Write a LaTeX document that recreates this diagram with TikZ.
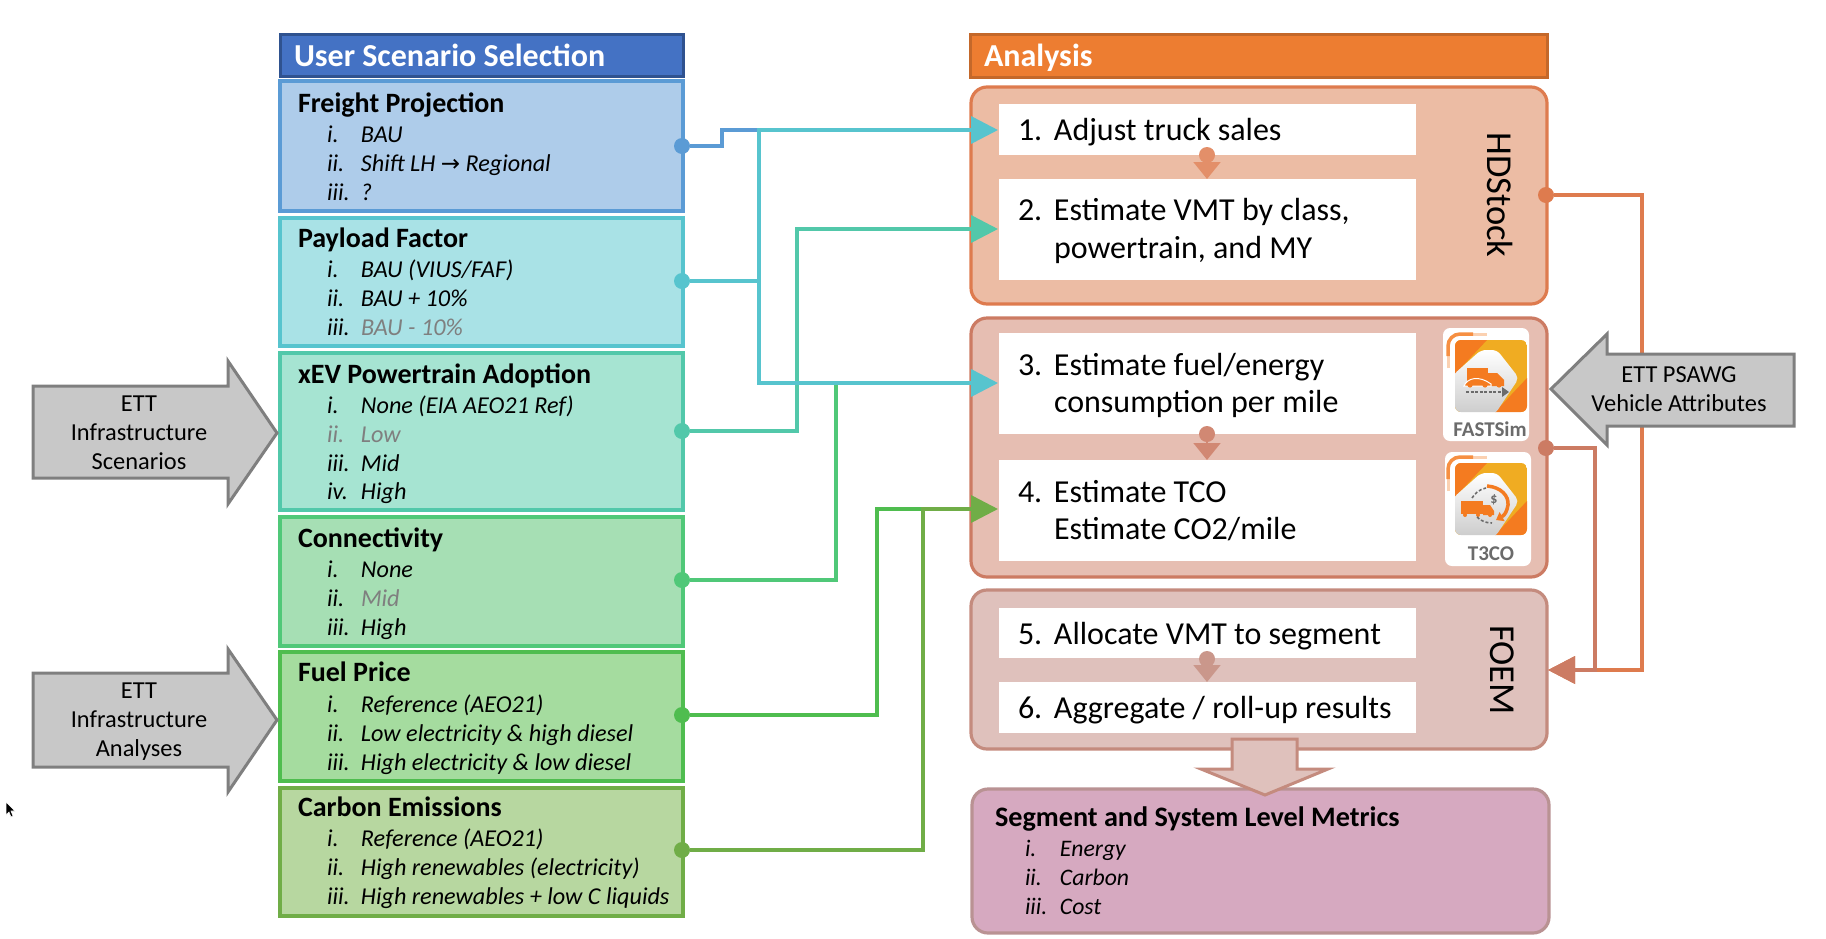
\documentclass[tikz,border=0pt]{standalone}
\usepackage{fontspec}
\setmainfont{Carlito}
\newfontfamily\arrowfont{DejaVu Sans}
\usetikzlibrary{arrows.meta}
\definecolor{cFrF}{HTML}{AECCEA}\definecolor{cFrB}{HTML}{5B9BD5}
\definecolor{cPaF}{HTML}{A9E2E6}\definecolor{cPaB}{HTML}{57C4CE}
\definecolor{cXeF}{HTML}{A6E4D2}\definecolor{cXeB}{HTML}{52C8AA}
\definecolor{cCoF}{HTML}{A6DFB4}\definecolor{cCoB}{HTML}{50C878}
\definecolor{cFuF}{HTML}{A5DC9F}\definecolor{cFuB}{HTML}{4FBD4F}
\definecolor{cCaF}{HTML}{B7D7A0}\definecolor{cCaB}{HTML}{70AD47}
\definecolor{cHdF}{HTML}{ECBCA4}\definecolor{cHdB}{HTML}{DE7B4E}
\definecolor{cBoF}{HTML}{E6BEB2}\definecolor{cBoB}{HTML}{CC7B63}
\definecolor{cFoF}{HTML}{DFC1BC}\definecolor{cFoB}{HTML}{C48B7E}
\definecolor{cMeF}{HTML}{D6A9C0}\definecolor{cMeB}{HTML}{B99293}
\definecolor{cGrF}{HTML}{C8C8C8}\definecolor{cGrB}{HTML}{7F7F7F}
\definecolor{cTxG}{HTML}{7F7F7F}\definecolor{cIcO}{HTML}{F47B20}\definecolor{cIcY}{HTML}{F0AC22}
\definecolor{cIcG}{HTML}{6B6B6B}
\definecolor{cTlF}{HTML}{4472C4}\definecolor{cTlB}{HTML}{2F528F}
\definecolor{cAnF}{HTML}{ED7D31}\definecolor{cAnB}{HTML}{C4682A}
\newcommand{\hdfont}{\fontsize{28}{30}\selectfont\bfseries}
\newcommand{\tlfont}{\fontsize{32}{34}\selectfont\bfseries}
\newcommand{\itfont}{\fontsize{24.2}{28}\selectfont\itshape}
\newcommand{\stfont}{\fontsize{32}{37}\selectfont}
\newcommand{\grfont}{\fontsize{24.4}{29}\selectfont}
\newcommand{\rowitem}[5][black]{\node[txt,text=#1] (#2) at (327,#3) {\hbox to 34pt{#4\hfil}#5};}
\newcommand{\rowitemB}[4]{\node[txt,font=\fontsize{23.7}{28}\selectfont\itshape] (#1) at (1025,#2) {\hbox to 35pt{#3\hfil}#4};}
\newcommand{\stepitem}[4]{\node[stxt] (#1) at (1018,#2) {\hbox to 36pt{#3\hfil}#4};}
\newcommand{\iconbase}{%
  \draw[cIcO!35!white,line width=3pt] (-7,28) -- (-7,12);
  \draw[cIcO!35!white,line width=3pt] (14,-6) -- (32,-6);
  \draw[cIcO!85!white,line width=3.5pt,rounded corners=12pt] (-7,16) -- (-7,-6) -- (18,-6);
  \draw[white,line width=1pt,dashed,rounded corners=9pt] (-4,22) -- (-4,-3) -- (22,-3);
  \begin{scope}
    \clip[rounded corners=6pt] (0,0) rectangle (72,72);
    \fill[cIcY] (0,0) rectangle (72,72);
    \fill[cIcO] (0,0) -- (32,0) -- (0,34) -- cycle;
    \fill[cIcO] (72,38) -- (72,72) -- (40,72) -- cycle;
    \shade[top color=white,bottom color=black!20,rounded corners=5pt] (-2,35) -- (26,10) -- (42,10) -- (64,38) -- (40,74) -- (-2,74) -- cycle;
  \end{scope}
}
\tikzset{
  x=1pt,y=-1pt,
  box/.style={line width=3.2pt,line join=miter},
  rbox/.style={line width=3.2pt,rounded corners=16pt},
  txt/.style={anchor=base west,inner sep=0pt,outer sep=0pt,font=\itfont},
  hd/.style={anchor=base west,inner sep=0pt,outer sep=0pt,font=\hdfont},
  tl/.style={anchor=base west,inner sep=0pt,outer sep=0pt,font=\tlfont,text=white},
  stxt/.style={anchor=base west,inner sep=0pt,outer sep=0pt,font=\stfont},
  grtxt/.style={anchor=base,inner sep=0pt,outer sep=0pt,font=\grfont},
  dot/.style={circle,inner sep=0pt,minimum size=16pt,fill=#1},
  conn/.style={draw=#1,line width=3.6pt,line join=miter},
  bigtip/.style={-{Triangle[length=27pt,width=27pt]}},
  smalltip/.style={-{Triangle[length=17pt,width=27pt]}},
  whitebox/.style={fill=white,draw=none},
  grayarrow/.style={fill=cGrF,draw=cGrB,line width=3pt,line join=miter},
  rotlabel/.style={inner sep=0pt,rotate=-90,font=\fontsize{36.5}{38}\selectfont},
  iconlabel/.style={inner sep=0pt,outer sep=0pt,anchor=base,text=cIcG,font=\fontsize{21}{24}\selectfont\bfseries},
}
\begin{document}
\begin{tikzpicture}
\useasboundingbox (0,0) rectangle (1826,938);
% left title and boxes
\path[line width=3pt,draw=cTlB,fill=cTlF] (280,34) rectangle (683,76);
\node[tl] (tLt) at (294,66) {User Scenario Selection};
\path[box,draw=cFrB,fill=cFrF] (280,81) rectangle (683,211);
\path[box,draw=cPaB,fill=cPaF] (280,218) rectangle (683,346);
\path[box,draw=cXeB,fill=cXeF] (280,353) rectangle (683,510);
\path[box,draw=cCoB,fill=cCoF] (280,517) rectangle (683,646);
\path[box,draw=cFuB,fill=cFuF] (280,652) rectangle (683,781);
\path[box,draw=cCaB,fill=cCaF] (280,788) rectangle (683,916);
\node[hd] (hFr) at (298,112) {Freight Projection};
\rowitem{fr1}{142}{i.}{BAU}
\rowitem{fr2}{171}{ii.}{Shift LH {\arrowfont\fontsize{23}{24}\selectfont\upshape →} Regional}
\rowitem{fr3}{200}{iii.}{?}
\node[hd] (hPa) at (298,247) {Payload Factor};
\rowitem{pa1}{277}{i.}{BAU (VIUS/FAF)}
\rowitem{pa2}{306}{ii.}{BAU + 10\%}
\node[txt] (pa3a) at (327,335) {iii.};
\node[txt,text=cTxG] (pa3b) at (361,335) {BAU - 10\%};
\node[hd] (hXe) at (298,383) {xEV Powertrain Adoption};
\rowitem{xe1}{413}{i.}{None (EIA AEO21 Ref)}
\rowitem[cTxG]{xe2}{442}{ii.}{Low}
\rowitem{xe3}{471}{iii.}{Mid}
\rowitem{xe4}{499}{iv.}{High}
\node[hd] (hCo) at (298,547) {Connectivity};
\rowitem{co1}{577}{i.}{None}
\node[txt] (co2a) at (327,606) {ii.};
\node[txt,text=cTxG] (co2b) at (361,606) {Mid};
\rowitem{co3}{635}{iii.}{High}
\node[hd] (hFu) at (298,681) {Fuel Price};
\rowitem{fu1}{712}{i.}{Reference (AEO21)}
\rowitem{fu2}{741}{ii.}{Low electricity \& high diesel}
\rowitem{fu3}{770}{iii.}{High electricity \& low diesel}
\node[hd] (hCa) at (298,816) {Carbon Emissions};
\rowitem{ca1}{846}{i.}{Reference (AEO21)}
\rowitem{ca2}{875}{ii.}{High renewables (electricity)}
\rowitem{ca3}{904}{iii.}{High renewables + low C liquids}
% right title and boxes
\path[line width=3pt,draw=cAnB,fill=cAnF] (970,34) rectangle (1547,77);
\node[tl] (tRt) at (984,66) {Analysis};
\path[rbox,draw=cHdB,fill=cHdF] (971,87) rectangle (1547,304);
\path[rbox,draw=cBoB,fill=cBoF] (971,318) rectangle (1547,577);
\path[rbox,draw=cFoB,fill=cFoF] (971,590) rectangle (1547,749);
\path[rbox,draw=cMeB,fill=cMeF] (972,789) rectangle (1549,933);
% white step boxes
\path[whitebox] (999,104) rectangle (1416,155);
\path[whitebox] (999,179) rectangle (1416,280);
\path[whitebox] (999,333) rectangle (1416,434);
\path[whitebox] (999,460) rectangle (1416,561);
\path[whitebox] (999,608) rectangle (1416,658);
\path[whitebox] (999,682) rectangle (1416,733);
\stepitem{s1}{140}{1.}{Adjust truck sales}
\stepitem{s2}{220}{2.}{Estimate VMT by class,}
\node[stxt] (s2b) at (1054,258) {powertrain, and MY};
\stepitem{s3}{375}{3.}{Estimate fuel/energy}
\node[stxt] (s3b) at (1054,412) {consumption per mile};
\stepitem{s4}{502}{4.}{Estimate TCO}
\node[stxt] (s4b) at (1054,539) {Estimate CO2/mile};
\stepitem{s5}{644}{5.}{Allocate VMT to segment}
\stepitem{s6}{718}{6.}{Aggregate / roll-up results}
% small arrows
\node[dot=cHdB!85!white] (a1) at (1207,155) {};
\coordinate (a1e) at (1207,179);
\draw[draw=cHdB!85!white,line width=2pt,smalltip] (a1) -- (a1e);
\node[dot=cBoB!90!white] (a2) at (1207,434) {};
\coordinate (a2e) at (1207,460);
\draw[draw=cBoB!90!white,line width=2pt,smalltip] (a2) -- (a2e);
\node[dot=cFoB!90!white] (a3) at (1207,659) {};
\coordinate (a3e) at (1207,682);
\draw[draw=cFoB!90!white,line width=2pt,smalltip] (a3) -- (a3e);
% rotated labels
\node[rotlabel] (lHd) at (1500,195) {HDStock};
\node[rotlabel] (lFo) at (1502,670) {FOEM};
% icons
\fill[white,rounded corners=7pt] (1443,328) rectangle (1529,441);
\begin{scope}[shift={(1455,340)}]
  \iconbase
  \fill[cIcO] (12,28) rectangle (33,42);
  \fill[cIcO] (33,33) -- (42,33) -- (49,40) -- (49,46) -- (33,46) -- cycle;
  \draw[white,line width=1pt,fill=cIcO] (9,46) .. controls (12,38) and (24,35) .. (36,44) -- (36,46) -- cycle;
  \fill[cIcO] (15,45) circle[radius=2.6pt] (30,45) circle[radius=2.6pt] (44,45) circle[radius=2.6pt];
  \draw[cIcG,line width=1.8pt,dash pattern=on 3pt off 1.5pt] (11,52) -- (47,52);
  \fill[cIcG] (47,47) -- (54,52) -- (47,57) -- cycle;
\end{scope}
\node[iconlabel] (lFs) at (1490,436) {FASTSim};
\fill[white,rounded corners=7pt] (1445,452) rectangle (1531,566);
\begin{scope}[shift={(1455,463)}]
  \iconbase
  \fill[cIcO] (6,38) rectangle (28,51);
  \fill[cIcO] (28,42) -- (35,42) -- (39,48) -- (39,52) -- (28,52) -- cycle;
  \fill[cIcO] (10,52) circle[radius=2pt] (23,52) circle[radius=2pt] (35,52) circle[radius=2pt];
  \draw[cIcG,line width=1.6pt,dash pattern=on 3pt off 2pt] (17,35) .. controls (20,30) and (25,26) .. (31,25);
  \draw[cIcG,line width=1.6pt,dash pattern=on 3pt off 2pt] (22,54) .. controls (26,58) and (31,60) .. (37,60);
  \draw[cIcO,line width=3.5pt,-{Triangle[length=7pt,width=10pt]}] (32,23) .. controls (46,24) and (54,33) .. (53,42) .. controls (52,48) and (50,52) .. (41,57);
  \node[inner sep=0pt,text=cIcG,font=\fontsize{14}{14}\selectfont\bfseries] (dlr) at (39,37) {\$};
\end{scope}
\node[iconlabel] (lT3) at (1491,560) {T3CO};
% connectors
\node[dot=cFrB] (dFr) at (682,146) {};
\node[dot=cPaB] (dPa) at (682,281) {};
\node[dot=cXeB] (dXe) at (682,431) {};
\node[dot=cCoB] (dCo) at (682,580) {};
\node[dot=cFuB] (dFu) at (682,715) {};
\node[dot=cCaB] (dCa) at (682,850) {};
\node[dot=cHdB] (dHd) at (1546,195) {};
\node[dot=cBoB] (dBo) at (1546,448) {};
\coordinate (tp1) at (998,130);
\coordinate (tp2) at (998,229);
\coordinate (tp3) at (998,383);
\coordinate (tp4) at (998,509);
\coordinate (tp5) at (1548,670);
\draw[conn=cFrB] (dFr) -| (722,130) -- (760,130);
\draw[conn=cCoB] (dCo) -| (836,383) -- (980,383);
\draw[conn=cXeB,bigtip] (dXe) -| (797,229) -- (tp2);
\draw[conn=cPaB,bigtip] (dPa) -| (759,130) -- (tp1);
\draw[conn=cPaB,bigtip] (dPa) -| (759,383) -- (tp3);
\draw[conn=cFuB] (dFu) -| (877,509) -- (950,509);
\draw[conn=cCaB,bigtip] (dCa) -| (923,509) -- (tp4);
\draw[conn=cHdB,bigtip] (dHd) -| (1642,670) -- (tp5);
\draw[conn=cBoB,bigtip] (dBo) -| (1595,670) -- (tp5);
% gray arrows
\path[grayarrow] (33,386) -- (228,386) -- (228,361) -- (277,433) -- (228,504) -- (228,478) -- (33,478) -- cycle;
\path[grayarrow] (33,673) -- (228,673) -- (228,649) -- (277,720) -- (228,792) -- (228,767) -- (33,767) -- cycle;
\path[grayarrow] (1794,354) -- (1607,354) -- (1607,334) -- (1551,389) -- (1607,445) -- (1607,426) -- (1794,426) -- cycle;
\node[grtxt] (g1a) at (139,411) {ETT};
\node[grtxt] (g1b) at (139,440) {Infrastructure};
\node[grtxt] (g1c) at (139,469) {Scenarios};
\node[grtxt] (g2a) at (139,698) {ETT};
\node[grtxt] (g2b) at (139,727) {Infrastructure};
\node[grtxt] (g2c) at (139,756) {Analyses};
\node[grtxt] (g3a) at (1679,382) {ETT PSAWG};
\node[grtxt] (g3b) at (1679,411) {Vehicle Attributes};
% down arrow
\path[draw=cFoB,fill=cFoF,line width=3pt,line join=miter] (1232,739) -- (1297,739) -- (1297,769) -- (1328,769) -- (1265,795) -- (1201,769) -- (1232,769) -- cycle;
% metrics text
\node[hd,font=\fontsize{28.2}{30}\selectfont\bfseries] (hMe) at (995,826) {Segment and System Level Metrics};
\rowitemB{me1}{856}{i.}{Energy}
\rowitemB{me2}{885}{ii.}{Carbon}
\rowitemB{me3}{914}{iii.}{Cost}
% cursor
\path[fill=black,draw=white,line width=0.6pt] (6,802) -- (6,815) -- (9,812) -- (11,817) -- (13,816) -- (11,811) -- (15,811) -- cycle;
\end{tikzpicture}
\end{document}
